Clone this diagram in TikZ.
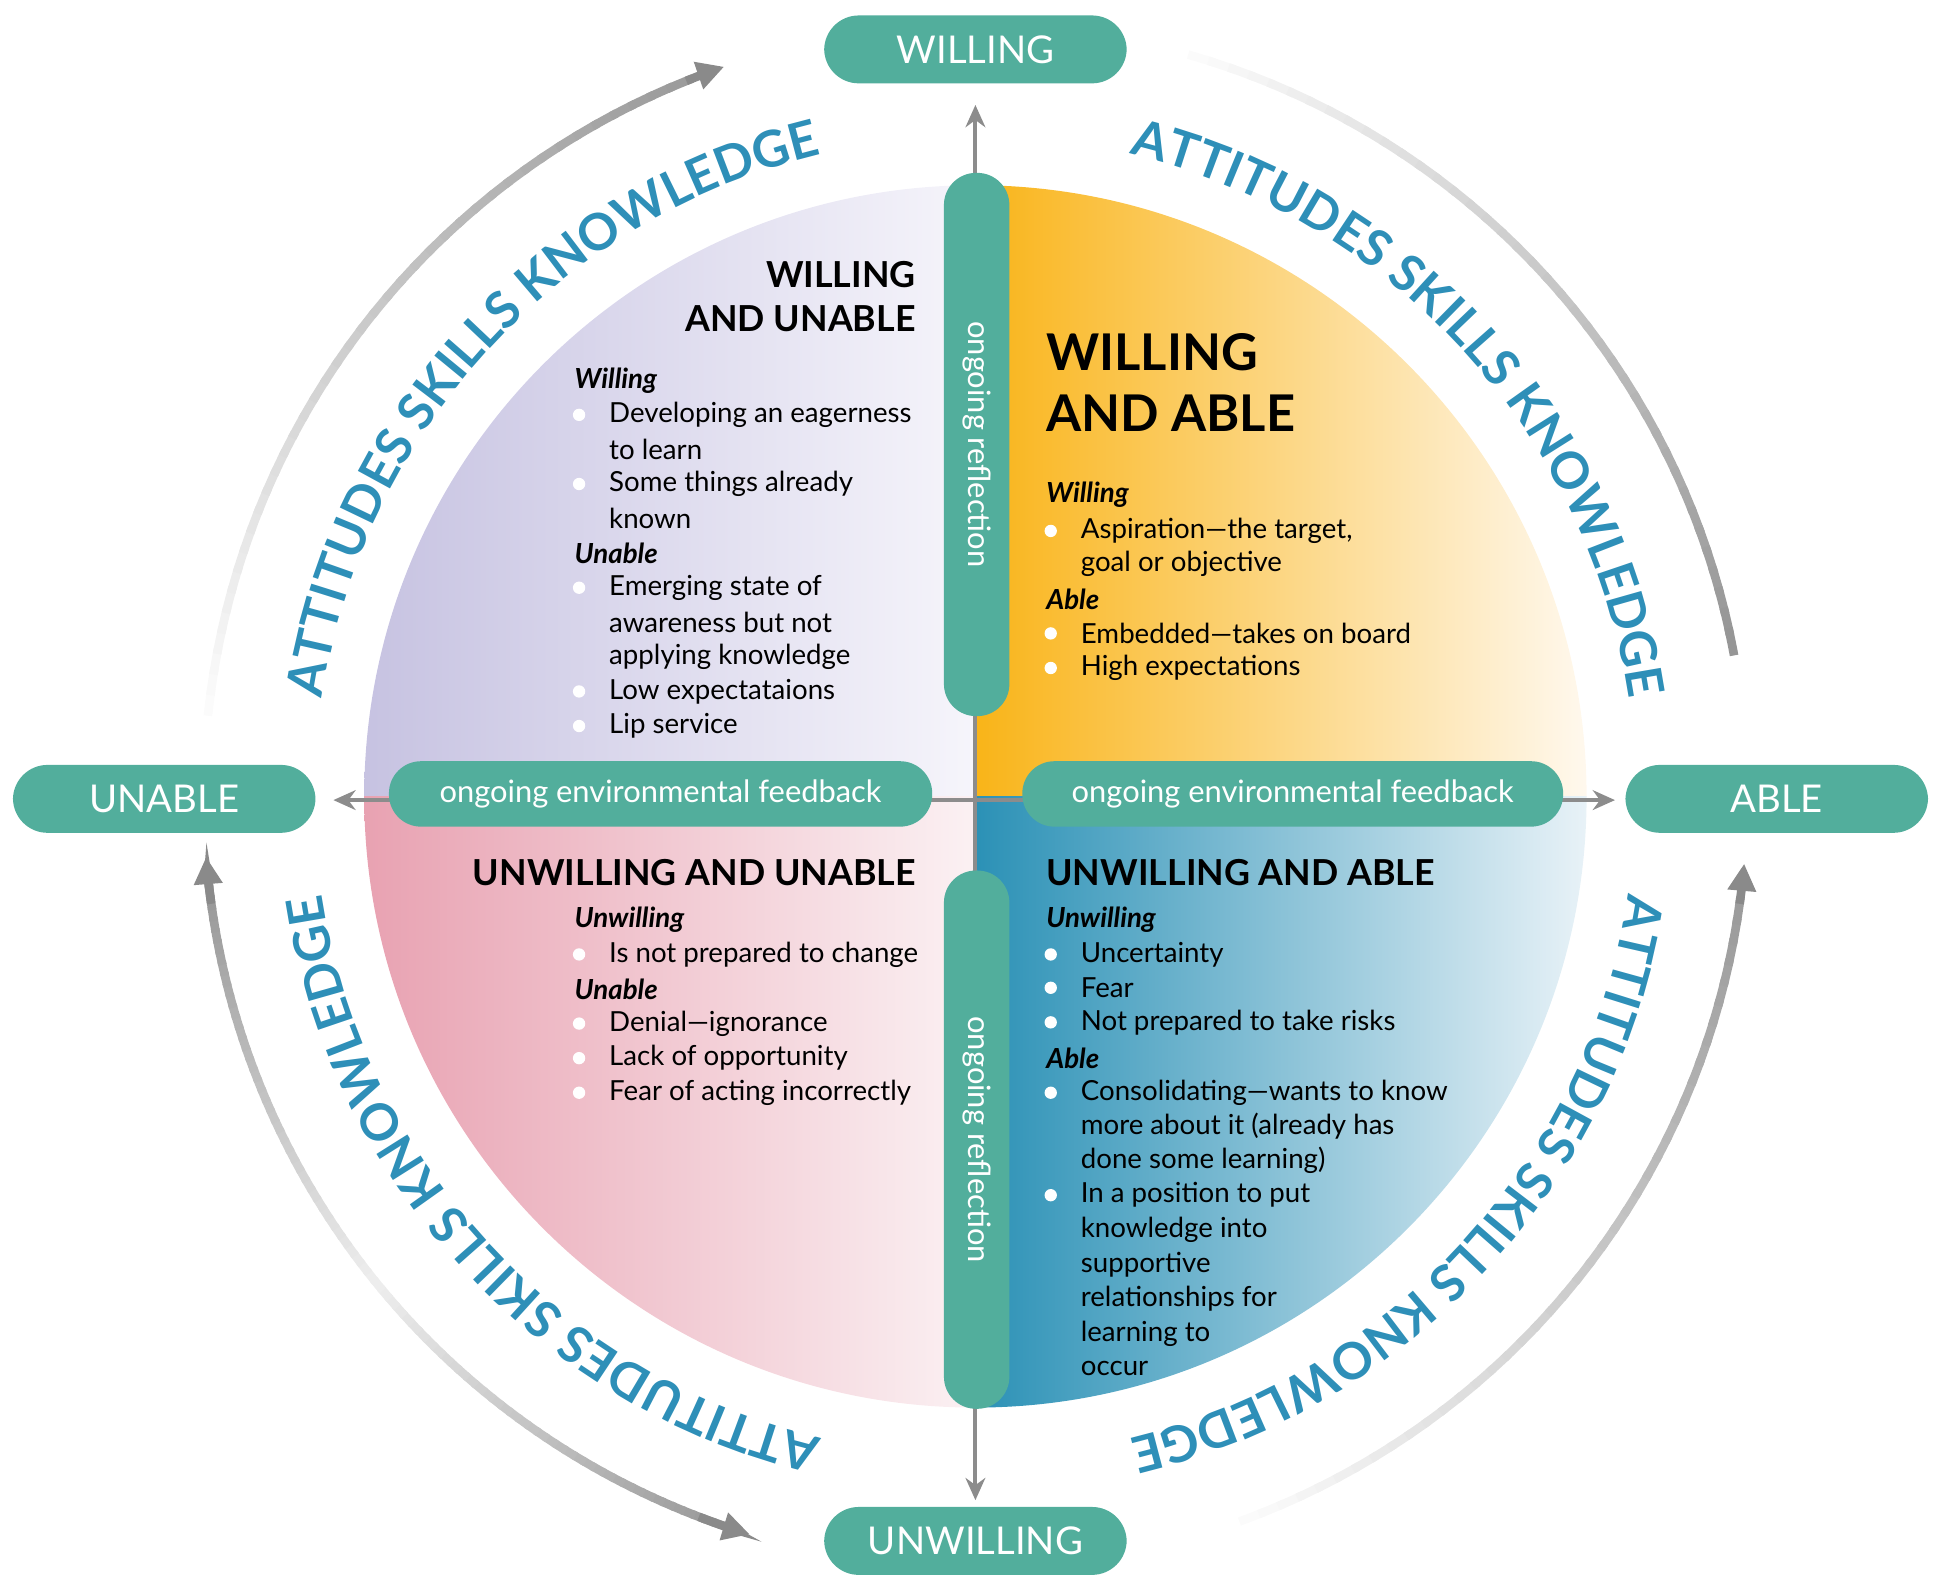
\documentclass[tikz,border=0pt]{standalone}
\usepackage{fontspec}
\setmainfont{Lato}
\usetikzlibrary{arrows.meta,decorations.text}
\definecolor{teal}{HTML}{52AE9C}
\definecolor{axgray}{HTML}{8C8C8C}
\definecolor{arcgray}{HTML}{8A8A8A}
\definecolor{skb}{HTML}{2E8FB8}
\definecolor{orA}{HTML}{F9B418}\definecolor{orB}{HTML}{FFF9F0}
\definecolor{laA}{HTML}{C6C2E1}\definecolor{laB}{HTML}{F6F5FB}
\definecolor{piA}{HTML}{E8A1B1}\definecolor{piB}{HTML}{FBF1F3}
\definecolor{blA}{HTML}{2B91B6}\definecolor{blB}{HTML}{EAF3F8}
\newcommand\gradarc[5]{%
 \foreach \i in {0,...,39}{%
  \pgfmathsetmacro\aa{#2+(#3-#2)*\i/40}%
  \pgfmathsetmacro\bb{#2+(#3-#2)*(\i+1.3)/40}%
  \pgfmathsetmacro\pp{#4+(#5-#4)*\i/39}%
  \draw[arcgray!\pp, line width=3.5pt] ({790+#1*cos(\aa)},{645-#1*sin(\aa)}) arc[start angle=-\aa, end angle=-\bb, radius=#1];}}
\newcommand\arctip[2]{%
  \draw[arcgray, line width=3.5pt, -{Triangle[length=11pt,width=11pt]}] ({790+625*cos(#1)},{645-625*sin(#1)}) arc[start angle=-#1, end angle=-#2, radius=625];}
\newcommand\curvetext[2]{%
  \path[decorate, decoration={text along path, text align=center, text format delimiters={|}{|},
   text={|\fontsize{20.5}{20.5}\bfseries\color{skb}|ATTITUDES SKILLS KNOWLEDGE}}]
   ({790+535*cos(#1)},{645-535*sin(#1)}) arc[start angle=-#1, end angle=-#2, radius=535];}
\tikzset{
 pill/.style={fill=teal, rounded corners=13pt, text=white, inner sep=0, font=\fontsize{12.5}{14}\selectfont},
 lab/.style={fill=teal, rounded corners=14pt, text=white, inner sep=0, minimum width=122.5pt, minimum height=27.5pt, font=\fontsize{15.5}{16}\selectfont},
 body/.style={anchor=west, inner sep=0, font=\fontsize{11.2}{13}\selectfont},
 head/.style={anchor=west, inner sep=0, font=\fontsize{11.2}{13}\selectfont\bfseries\itshape},
 ttl/.style={inner sep=0, font=\fontsize{14.5}{16}\selectfont\bfseries},
 ax/.style={axgray, line width=1.6pt, -{Stealth[length=9pt,width=8pt]}}
}
\begin{document}
\begin{tikzpicture}[x=0.5pt,y=-0.5pt]
\useasboundingbox (0,0) rectangle (1568,1292);
\begin{scope}
 \clip (790,645) circle[radius=495];
 \shade[left color=orA, right color=orB] (790,645) rectangle (1290,140);
 \shade[left color=laA, right color=laB] (290,140) rectangle (790,645);
 \shade[left color=piA, right color=piB] (290,645) rectangle (790,1150);
 \shade[left color=blA, right color=blB] (790,645) rectangle (1290,1150);
\end{scope}
% axes
\coordinate (c) at (790,648);
\coordinate (top) at (790,85);
\coordinate (bot) at (790,1215);
\coordinate (lft) at (270,648);
\coordinate (rgt) at (1308,648);
\draw[ax] (c) -- (top);
\draw[ax] (c) -- (bot);
\draw[ax] (c) -- (lft);
\draw[ax] (c) -- (rgt);
% pills
\node[pill, rotate=-90, minimum width=220pt, minimum height=26.5pt] (vp1) at (791,360) {ongoing reflection};
\node[pill, rotate=-90, minimum width=218pt, minimum height=26.5pt] (vp2) at (791,923) {ongoing reflection};
\node[pill, minimum width=220pt, minimum height=26.5pt] (hp1) at (535,643) {ongoing environmental feedback};
\node[pill, minimum width=219pt, minimum height=26.5pt] (hp2) at (1047,643) {ongoing environmental feedback};
% labels
\node[lab] (w) at (790,40) {WILLING};
\node[lab] (uw) at (790,1248) {UNWILLING};
\node[lab] (ua) at (133,647) {UNABLE};
\node[lab] (a) at (1439,647) {ABLE};
% outer arcs
\gradarc{625}{174}{112}{3}{85}
\arctip{112}{109}
\gradarc{625}{74}{11}{3}{90}
\gradarc{625}{-70}{-8}{3}{85}
\arctip{-8}{-5}
\gradarc{625}{-108}{-141}{90}{15}
\gradarc{625}{-141}{-174}{15}{90}
\arctip{-111}{-107}
\arctip{-172}{-175.5}
% curved texts
\curvetext{173}{102}
\curvetext{78}{7}
\curvetext{-7}{-78}
\curvetext{-102}{-173}
% TL
\node[ttl, anchor=east] (tlt1) at (742,222) {WILLING};
\node[ttl, anchor=east] (tlt2) at (742,258) {AND UNABLE};
\node[head] (tlh1) at (465,308) {Willing};
\node[head] (tlh2) at (465,448) {Unable};
\foreach \y/\t [count=\k] in {336/Developing an eagerness,364/to learn,392/Some things already,420/known,476/Emerging state of,504/awareness but not,532/applying knowledge,560/Low expectataions,588/Lip service}
  \node[body] (tl\k) at (493,\y) {\t};
\foreach \y in {336,392,476,560,588} \fill[white] (469,\y) circle[radius=5];
% TR
\node[inner sep=0, anchor=west, font=\fontsize{20.5}{22}\selectfont\bfseries] (trt1) at (847,285) {WILLING};
\node[inner sep=0, anchor=west, font=\fontsize{20.5}{22}\selectfont\bfseries] (trt2) at (847,335) {AND ABLE};
\node[head] (trh1) at (847,401) {Willing};
\node[head] (trh2) at (847,485) {Able};
\foreach \y/\t [count=\k] in {430/{Aspiration—the target,},457/goal or objective,513/Embedded—takes on board,541/High expectations}
  \node[body] (tr\k) at (875,\y) {\t};
\foreach \y in {430,513,541} \fill[white] (851,\y) circle[radius=5];
% BL
\node[ttl, anchor=east] (blt) at (742,707) {UNWILLING AND UNABLE};
\node[head] (blh1) at (465,745) {Unwilling};
\node[head] (blh2) at (465,801) {Unable};
\foreach \y/\t [count=\k] in {773/Is not prepared to change,829/Denial—ignorance,857/Lack of opportunity,885/Fear of acting incorrectly}
  \node[body] (bl\k) at (493,\y) {\t};
\foreach \y in {773,829,857,885} \fill[white] (469,\y) circle[radius=5];
% BR
\node[ttl, anchor=west] (brt) at (847,707) {UNWILLING AND ABLE};
\node[head] (brh1) at (847,745) {Unwilling};
\node[head] (brh2) at (847,857) {Able};
\foreach \y/\t [count=\k] in {773/Uncertainty,800/Fear,828/Not prepared to take risks,885/Consolidating—wants to know,912/more about it (already has,940/done some learning),968/In a position to put,996/knowledge into,1024/supportive,1052/relationships for,1080/learning to,1108/occur}
  \node[body] (br\k) at (875,\y) {\t};
\foreach \y in {773,800,828,885,968} \fill[white] (851,\y) circle[radius=5];
\end{tikzpicture}
\end{document}
